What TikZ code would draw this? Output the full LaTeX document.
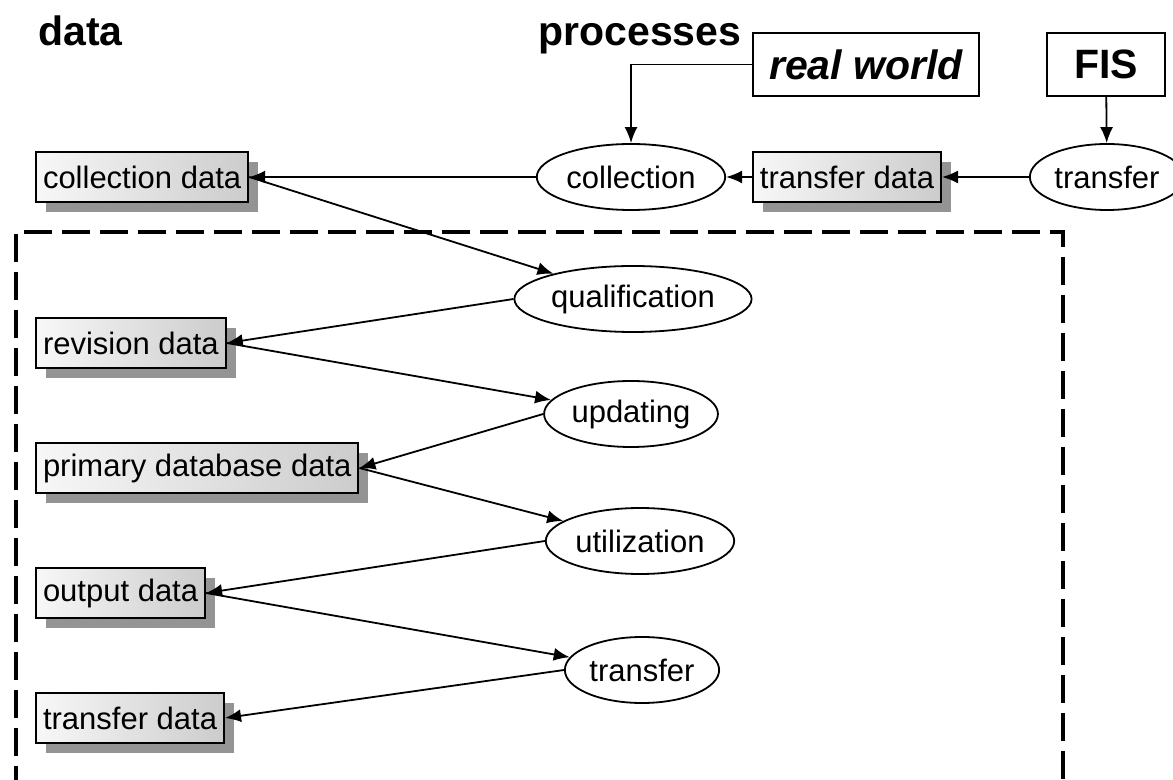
\documentclass[tikz,border=0pt]{standalone}
\usepackage{fontspec}
\setmainfont{Liberation Sans}
\usetikzlibrary{shapes.geometric,shadows,arrows.meta}

\begin{document}
\begin{tikzpicture}[x=0.5pt,y=-0.5pt]
		        \tikzstyle{title}=[font=\fontsize{20.5}{24}\selectfont\bfseries,inner sep=0pt]
		        \tikzstyle{datbox}=[rectangle,draw=black,line width=1pt,inner xsep=3.5pt,minimum height=25pt,
		            left color=black!3,right color=black!20,font=\fontsize{15.5}{18}\selectfont,
		            drop shadow={shadow xshift=5pt,shadow yshift=-5pt,fill=black!42,opacity=1}]
		        \tikzstyle{proc}=[ellipse,draw=black,line width=0.9pt,fill=white,inner xsep=1pt,minimum height=33pt,
		            font=\fontsize{15.5}{18}\selectfont]
		        \tikzstyle{src}=[rectangle,draw=black,line width=0.9pt,fill=white,minimum height=31.5pt,
		            font=\fontsize{20.5}{24}\selectfont\bfseries]
		        \tikzstyle{edge}=[draw,line width=0.9pt,-{Latex[length=8pt,width=6.5pt]}]
		        \useasboundingbox (0,0) rectangle (1173,780);
		    	\begin{scope}
			         \node [title,anchor=base west] (hdata) at (38,46) {data};
			         \node [title,anchor=base west] (hproc) at (538,46) {processes};

			         \node [src,minimum width=113pt] (rw) at (866,64.5) {\itshape real world};
			         \node [src,minimum width=59pt] (fis) at (1106,64.5) {FIS};

			         \node [proc] (coll) at (631,177) {collection};
			         \node [datbox] (td0) at (847,177) {transfer data};
			         \node [proc] (tr0) at (1107,177) {transfer};

			         \node [datbox,anchor=west] (cd) at (35,177) {collection data};
			         \node [datbox,anchor=west] (rd) at (35,343) {revision data};
			         \node [datbox,anchor=west] (pd) at (35,468) {primary database data};
			         \node [datbox,anchor=west] (od) at (35,593) {output data};
			         \node [datbox,anchor=west] (td) at (35,718) {transfer data};

			         \node [proc] (qual) at (633,299) {qualification};
			         \node [proc] (upd) at (631,414) {updating};
			         \node [proc] (util) at (640,541) {utilization};
			         \node [proc] (tr) at (642,670) {transfer};

			         \path[edge] (rw.west) -| (coll.north);
			         \path[edge] (fis) to (tr0);
			         \path[edge] (tr0) to (td0);
			         \path[edge] (td0) to (coll);
			         \path[edge] (coll) to (cd);

			         \path[edge] (cd.east) to (qual);
			         \path[edge] (qual.west) to (rd.east);
			         \path[edge] (rd.east) to (upd);
			         \path[edge] (upd.west) to (pd.east);
			         \path[edge] (pd.east) to (util);
			         \path[edge] (util.west) to (od.east);
			         \path[edge] (od.east) to (tr);
			         \path[edge] (tr.west) to (td.east);

			         \draw[line width=2pt,dash pattern=on 14pt off 5pt] (16,832) -- (16,232) -- (1063,232) -- (1063,832);
		         \end{scope}
\end{tikzpicture}
\end{document}
